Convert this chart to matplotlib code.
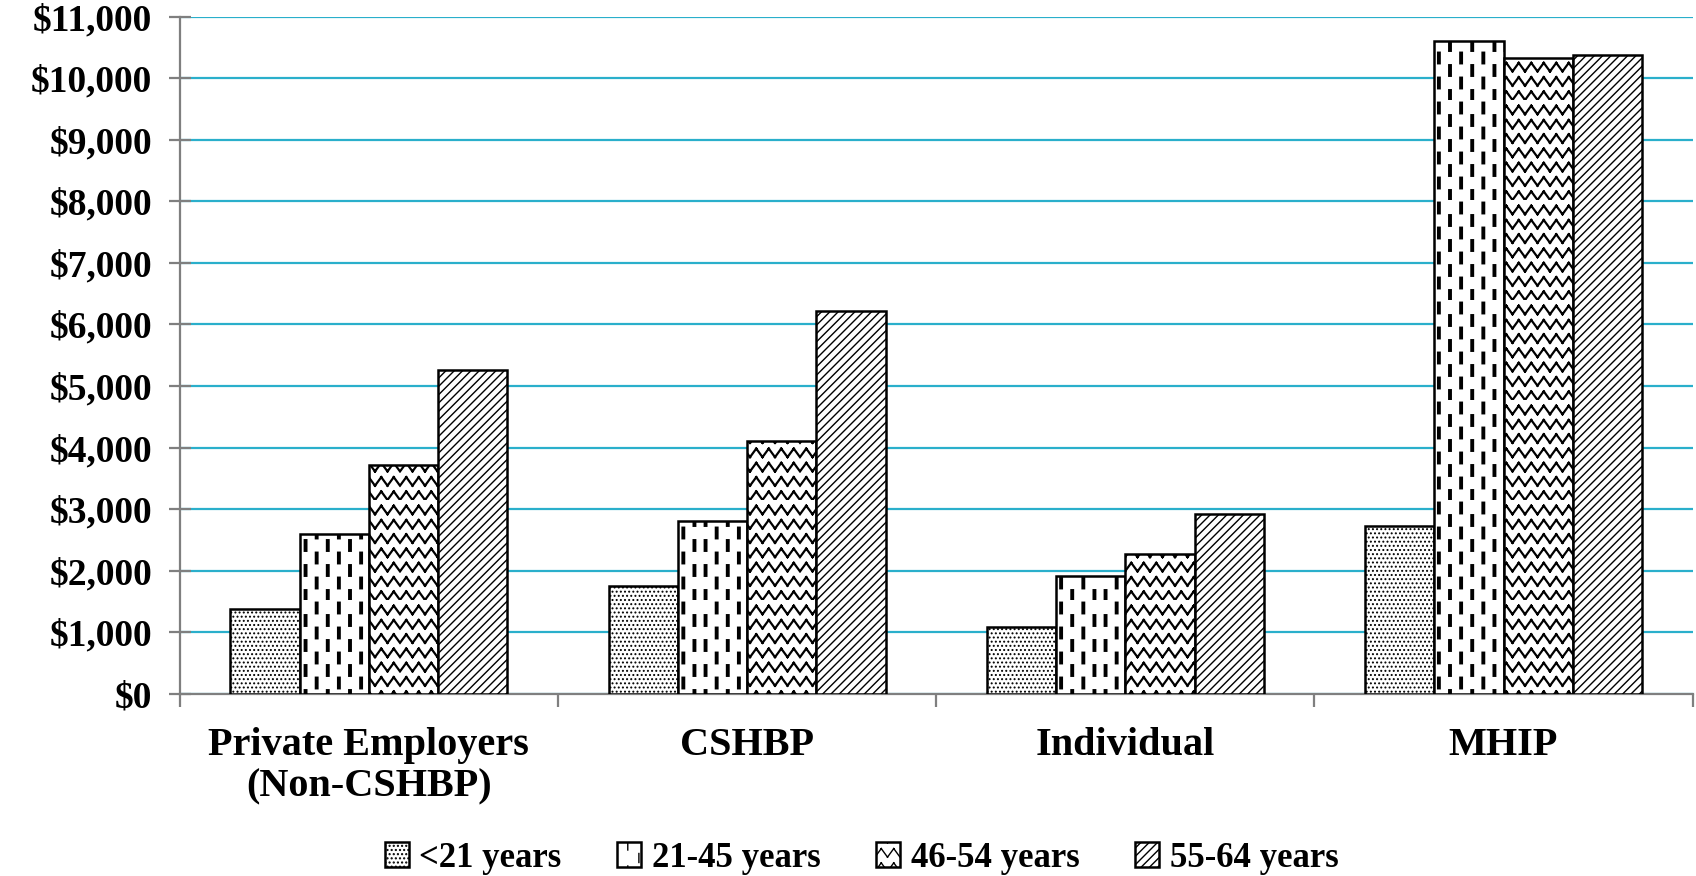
import numpy as np
import matplotlib
matplotlib.use("Agg")
import matplotlib.pyplot as plt
from matplotlib import hatch as mhatch
from matplotlib.path import Path
from matplotlib.ticker import FuncFormatter

# --- данные ---
categories = ["Private Employers\n(Non-CSHBP)", "CSHBP", "Individual", "MHIP"]
age_groups = ["<21 years", "21-45 years", "46-54 years", "55-64 years"]
under_21 = [1375, 1745, 1090, 2730]
age_21_45 = [2590, 2815, 1920, 10600]
age_46_54 = [3715, 4100, 2270, 10335]
age_55_64 = [5265, 6215, 2925, 10385]
series = [under_21, age_21_45, age_46_54, age_55_64]
y_ticks = list(range(0, 11001, 1000))


# --- свои штриховки: вертикальные пунктиры и зигзаг ---
class VDashHatch(mhatch.HatchPatternBase):
    def __init__(self, hatch, density):
        self.cols = 9 * hatch.count('!')
        self.rows = 4
        self.num_vertices = self.cols * self.rows * 2

    def set_vertices_and_codes(self, vertices, codes):
        k = 0
        for i in range(self.cols):
            x = (i + 0.5) / self.cols
            shift = 0.5 / self.rows if i % 2 else 0.0
            for j in range(self.rows):
                y0 = (j / self.rows + shift) % 1.0
                y1 = min(y0 + 0.09, 1.0)
                vertices[k] = (x, y0)
                vertices[k + 1] = (x, y1)
                codes[k] = Path.MOVETO
                codes[k + 1] = Path.LINETO
                k += 2


class ZigZagHatch(mhatch.HatchPatternBase):
    def __init__(self, hatch, density):
        self.rows = 7 * hatch.count('z')
        self.teeth = 8
        self.num_vertices = self.rows * self.teeth * 2 * 2

    def set_vertices_and_codes(self, vertices, codes):
        k = 0
        h = 1.0 / self.rows
        w = 1.0 / self.teeth
        for r in range(self.rows):
            y = r * h
            for t in range(self.teeth):
                x = t * w
                vertices[k] = (x, y)
                vertices[k + 1] = (x + w / 2, y + h * 0.6)
                vertices[k + 2] = (x + w / 2, y + h * 0.6)
                vertices[k + 3] = (x + w, y)
                codes[k] = Path.MOVETO
                codes[k + 1] = Path.LINETO
                codes[k + 2] = Path.MOVETO
                codes[k + 3] = Path.LINETO
                k += 4


mhatch._hatch_types.append(VDashHatch)
mhatch._hatch_types.append(ZigZagHatch)

hatches = ["....", "!", "z", "////"]
hatch_lw = [0.9, 2.8, 1.6, 1.0]

plt.rcParams['font.family'] = ['Liberation Serif', 'DejaVu Serif']
plt.rcParams['font.weight'] = 'bold'

fig = plt.figure(figsize=(16.96, 8.76), dpi=100)
ax = fig.add_axes([0.106, 0.208, 0.892, 0.773])

x = np.arange(len(categories))
width = 0.183
offsets = (np.arange(4) - 1.5) * width

handles = []
for vals, off, h, hl, lab in zip(series, offsets, hatches, hatch_lw, age_groups):
    with plt.rc_context({'hatch.linewidth': hl}):
        bars = ax.bar(x + off, vals, width, color='white', edgecolor='black',
                      linewidth=1.8, hatch=h, label=lab, zorder=3)
    for b in bars:
        if hasattr(b, 'set_hatch_linewidth'):
            b.set_hatch_linewidth(hl)
    handles.append(bars)

ax.set_xlim(-0.5, 3.5)
ax.set_ylim(0, 11000)
ax.set_yticks(y_ticks)
ax.yaxis.set_major_formatter(FuncFormatter(lambda v, p: f"${int(v):,}"))
ax.set_xticks(x)
ax.set_xticklabels(categories, fontsize=29, fontweight='bold', linespacing=1.15)
ax.set_xticks(np.arange(-0.5, 4.0, 1.0), minor=True)

ax.grid(axis='y', color='#2AAFCB', linewidth=1.6, zorder=0)
ax.set_axisbelow(True)
for s in ['top', 'right']:
    ax.spines[s].set_visible(False)
for s in ['left', 'bottom']:
    ax.spines[s].set_color('#7f7f7f')
    ax.spines[s].set_linewidth(1.6)

ax.tick_params(axis='y', direction='inout', length=16, width=1.6, color='#7f7f7f',
               labelsize=27, pad=12)
ax.tick_params(axis='x', which='major', length=0, pad=24)
ax.tick_params(axis='x', which='minor', direction='out', length=9, width=1.6,
               color='#7f7f7f')
for t in ax.get_yticklabels():
    t.set_fontweight('bold')

fig.legend(handles, age_groups, loc='lower center', bbox_to_anchor=(0.508, -0.034),
           ncol=4, frameon=False, prop={'size': 25, 'weight': 'bold'},
           handlelength=0.7, handleheight=0.7, handletextpad=0.3, columnspacing=1.6)

fig.savefig("out.png", dpi=100)
